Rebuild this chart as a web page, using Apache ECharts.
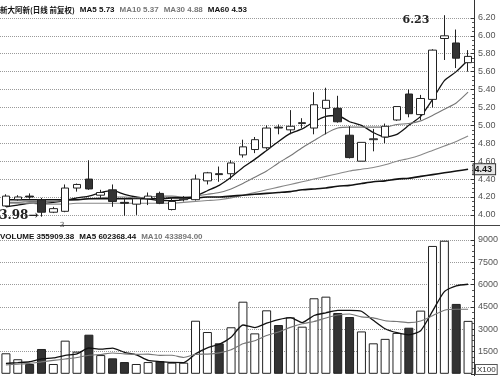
<!DOCTYPE html>
<html><head><meta charset="utf-8">
<script src="https://cdn.jsdelivr.net/npm/echarts@6/dist/echarts.min.js"></script>
<style>html,body{margin:0;padding:0;background:#fff}#c{width:500px;height:376px}</style>
</head><body><div id="c"></div>
<script>
// ---- data ----
const categories = Array.from({length: 40}, (_, i) => 'D' + (i + 1));
const open  = [4.10,4.17,4.21,4.17,4.03,4.04,4.30,4.40,4.22,4.28, 4.14,4.12,4.18,4.24,4.06,4.17,4.17,4.38,4.46,4.46, 4.67,4.73,4.75,4.98,4.95,5.02,4.97,5.19,5.19,4.89, 4.60,4.84,4.87,5.06,5.35,5.12,5.29,5.97,5.92,5.70];
const close = [4.21,4.20,4.20,4.03,4.07,4.30,4.34,4.29,4.25,4.15, 4.13,4.18,4.21,4.13,4.15,4.18,4.40,4.47,4.45,4.58, 4.76,4.84,4.97,4.97,4.99,5.03,5.23,5.28,5.04,4.64, 4.81,4.85,4.99,5.21,5.13,5.30,5.84,6.00,5.75,5.77];
const low   = [4.09,4.16,4.18,3.98,4.02,4.03,4.26,4.28,4.19,4.09, 3.99,4.00,4.11,4.12,4.05,4.15,4.16,4.34,4.37,4.40, 4.64,4.69,4.73,4.90,4.90,4.97,4.90,4.90,5.03,4.63, 4.60,4.71,4.80,5.05,5.09,5.06,5.20,5.73,5.64,5.60];
const high  = [4.23,4.22,4.24,4.19,4.09,4.34,4.35,4.61,4.28,4.34, 4.19,4.19,4.25,4.26,4.20,4.21,4.45,4.48,4.54,4.61, 4.84,4.87,5.00,5.01,5.17,5.08,5.37,5.42,5.33,4.99, 4.81,4.96,5.02,5.21,5.40,5.34,5.85,6.23,6.07,5.84];
const ma5  = [4.09,4.11,4.13,4.13,4.14,4.16,4.19,4.21,4.25,4.27, 4.23,4.20,4.18,4.16,4.16,4.17,4.21,4.27,4.33,4.42, 4.53,4.62,4.72,4.82,4.91,4.96,5.04,5.10,5.11,5.04, 5.00,4.92,4.87,4.90,5.00,5.10,5.29,5.50,5.60,5.73];
const ma10 = [4.14,4.14,4.15,4.15,4.15,4.16,4.17,4.18,4.19,4.20, 4.20,4.19,4.20,4.21,4.21,4.20,4.21,4.23,4.25,4.29, 4.35,4.42,4.49,4.58,4.66,4.75,4.83,4.91,4.97,4.98, 4.98,4.98,4.98,5.01,5.02,5.05,5.11,5.18,5.25,5.37];
const ma30 = [4.13,4.13,4.13,4.12,4.12,4.12,4.13,4.13,4.13,4.13, 4.13,4.13,4.13,4.13,4.13,4.14,4.15,4.16,4.17,4.19, 4.22,4.25,4.28,4.31,4.34,4.37,4.40,4.43,4.46,4.49, 4.51,4.53,4.56,4.60,4.63,4.67,4.72,4.77,4.82,4.88];
const ma60 = [4.17,4.17,4.17,4.17,4.17,4.17,4.17,4.18,4.18,4.18, 4.18,4.18,4.18,4.18,4.19,4.19,4.19,4.20,4.20,4.21, 4.22,4.23,4.24,4.25,4.26,4.28,4.29,4.30,4.32,4.33, 4.35,4.37,4.38,4.40,4.41,4.43,4.45,4.47,4.49,4.51];
const volume = [1380,980,660,1670,660,2230,1490,2630,1260,1040, 790,660,790,840,750,750,3570,2810,2050,3130, 4850,2720,4270,3280,3800,3170,5080,5190,4090,3820, 2850,2050,2350,2750,3100,4250,8600,8950,4700,3559];
const volMa5  = [700,750,810,1000,1070,1240,1342,1736,1654,1730, 1442,1276,908,824,766,758,1340,1744,1986,2462, 3282,3112,3404,3650,3784,3448,3920,4104,4266,4270, 4206,3600,3032,2764,2620,2900,4210,5530,5920,6024];
const volMa10 = [600,650,700,800,900,1000,1100,1250,1300,1400, 1341,1309,1322,1239,1248,1100,1308,1326,1405,1614, 2020,2226,2574,2818,3123,3365,3516,3754,3958,4027, 3827,3760,3568,3515,3445,3553,3905,4281,4342,4339];
const priceTicks = {min: 4.0, max: 6.2, step: 0.2};
const volTicks = {min: 0, max: 9000, step: 1500};
const priceLegend = {name: '新大阿新(日线 前复权)', ma5: '5.73', ma10: '5.37', ma30: '4.88', ma60: '4.53'};
const volLegend = {vol: '355909.38', ma5: '602368.44', ma10: '433894.00'};
const notes = {lowIdx: 3, low: 3.98, highIdx: 37, high: 6.23, monthIdx: 5, monthLevel: 3.88, monthText: '3', boxText: '4.43'};

// ---- chart ----
const chart = echarts.init(document.getElementById('c'), null, {renderer: 'canvas'});
const FONT = '"Liberation Sans", Arial, sans-serif';
const serif = '"DejaVu Serif", "Liberation Serif", serif';
const candleData = open.map((o, i) => [o, close[i], low[i], high[i]]);
const up = i => close[i] >= open[i];

function axisCommon(t) {
  return {
    position: 'right', min: t.min, max: t.max, interval: t.step,
    axisLine: {show: true, lineStyle: {color: '#333', width: 1}},
    axisTick: {show: true, inside: true, length: 3, lineStyle: {color: '#333'}},
    minorTick: {show: true, splitNumber: 4, length: 2, lineStyle: {color: '#555'}},
    splitLine: {show: true, lineStyle: {type: 'dotted', color: '#9a9a9a', width: 1}},
    axisLabel: {fontSize: 9, color: '#555', margin: 4, fontFamily: FONT}
  };
}
const yPrice = axisCommon(priceTicks);
yPrice.gridIndex = 0;
yPrice.axisLabel.formatter = v => v.toFixed(2);
const yVol = axisCommon(volTicks);
yVol.gridIndex = 1;
yVol.splitLine.showMinLine = false;
yVol.axisLabel.formatter = v => v === 0 ? '' : String(v);

const lineS = (name, data, color, width, xi) => ({
  name, type: 'line', data, xAxisIndex: xi, yAxisIndex: xi, symbol: 'none', showSymbol: false,
  smooth: 0.2, clip: false, lineStyle: {color, width}, z: 3, silent: true
});

const option = {
  animation: false,
  backgroundColor: '#fff',
  title: [
    {left: 0, top: 1, itemGap: 0, padding: 0,
     text: `{a|${priceLegend.name}} {b|MA5 ${priceLegend.ma5}} {c|MA10 ${priceLegend.ma10}} {c|MA30 ${priceLegend.ma30}} {b|MA60 ${priceLegend.ma60}}`,
     textStyle: {rich: {
       a: {fontSize: 7.5, fontFamily: '"Noto Sans CJK SC", sans-serif', color: '#111'},
       b: {fontSize: 8, fontFamily: FONT, color: '#111', fontWeight: 'bold'},
       c: {fontSize: 8, fontFamily: FONT, color: '#777'}
     }}},
    {left: 0, top: 228, padding: 0,
     text: `{b|VOLUME ${volLegend.vol}} {b|MA5 ${volLegend.ma5}} {c|MA10 ${volLegend.ma10}}`,
     textStyle: {rich: {
       b: {fontSize: 8, fontFamily: FONT, color: '#111', fontWeight: 'bold'},
       c: {fontSize: 8, fontFamily: FONT, color: '#777'}
     }}}
  ],
  grid: [
    {left: 0, width: 474, top: 17.9, height: 197, outerBoundsMode: 'none'},
    {left: 0, width: 474, top: 240, height: 133.8, outerBoundsMode: 'none'}
  ],
  xAxis: [
    {type: 'category', data: categories, gridIndex: 0, show: false},
    {type: 'category', data: categories, gridIndex: 1, show: false}
  ],
  yAxis: [yPrice, yVol],
  series: [
    {type: 'candlestick', data: candleData, xAxisIndex: 0, yAxisIndex: 0, barWidth: 8, clip: false, z: 4,
     itemStyle: {color: '#fff', color0: '#333', borderColor: '#222', borderColor0: '#222', borderWidth: 1}},
    lineS('MA5', ma5, '#111', 1.3, 0),
    lineS('MA10', ma10, '#777', 1.1, 0),
    lineS('MA30', ma30, '#888', 1.1, 0),
    Object.assign(lineS('MA60', ma60, '#111', 1.6, 0), {
      markPoint: {symbol: 'circle', symbolSize: 1, itemStyle: {color: 'rgba(0,0,0,0)'}, silent: true, data: [
        {coord: [categories[ma60.length - 1], ma60[ma60.length - 1]], value: 0,
         label: {show: true, position: 'right', distance: 5, formatter: notes.boxText,
                 fontFamily: FONT, fontSize: 9, fontWeight: 'bold', color: '#111',
                 backgroundColor: '#e6e6e6', borderColor: '#333', borderWidth: 1, padding: [1, 3, 0, 1]}}
      ]}
    }),
    {type: 'bar', data: volume, xAxisIndex: 1, yAxisIndex: 1, barWidth: 9, z: 2,
     itemStyle: {borderColor: '#222', borderWidth: 1,
                 color: p => up(p.dataIndex) ? '#fff' : '#333'}},
    lineS('VMA5', volMa5, '#111', 1.3, 1),
    lineS('VMA10', volMa10, '#777', 1.1, 1)
  ],
  graphic: [
    {type: 'line', shape: {x1: 0, y1: 225.5, x2: 500, y2: 225.5}, style: {stroke: '#444', lineWidth: 1}, z: 10},
    {type: 'line', shape: {x1: 474.5, y1: 0, x2: 474.5, y2: 376}, style: {stroke: '#333', lineWidth: 1}, z: 10},
    {type: 'text', x: 476, y: 365, z: 10,
     style: {text: 'X100', font: '8px ' + FONT, fill: '#333', stroke: null,
             backgroundColor: '#fff', borderColor: '#555', borderWidth: 1, padding: [1, 1, 0, 1]}}
  ]
};
chart.setOption(option);

// annotations anchored to data through the price axes
const pLow = chart.convertToPixel({gridIndex: 0}, [categories[notes.lowIdx], notes.low]);
const pHigh = chart.convertToPixel({gridIndex: 0}, [categories[notes.highIdx], notes.high]);
const pMonth = chart.convertToPixel({gridIndex: 0}, [categories[notes.monthIdx], notes.monthLevel]);
chart.setOption({graphic: [
  {type: 'text', id: 'lowNote', z: 20, x: pLow[0] - 3, y: pLow[1] - 1,
   style: {text: notes.low.toFixed(2) + '→', font: 'bold 12px ' + serif, fill: '#222',
           align: 'right', verticalAlign: 'middle'}},
  {type: 'text', id: 'highNote', z: 20, x: pHigh[0] - 15, y: pHigh[1] + 5,
   style: {text: notes.high.toFixed(2), font: 'bold 11px ' + serif, fill: '#222',
           align: 'right', verticalAlign: 'middle'}},
  {type: 'text', id: 'monthNote', z: 20, x: pMonth[0] - 3, y: pMonth[1],
   style: {text: notes.monthText, font: '7px ' + serif, fill: '#333',
           align: 'center', verticalAlign: 'middle'}}
]});
</script></body></html>
